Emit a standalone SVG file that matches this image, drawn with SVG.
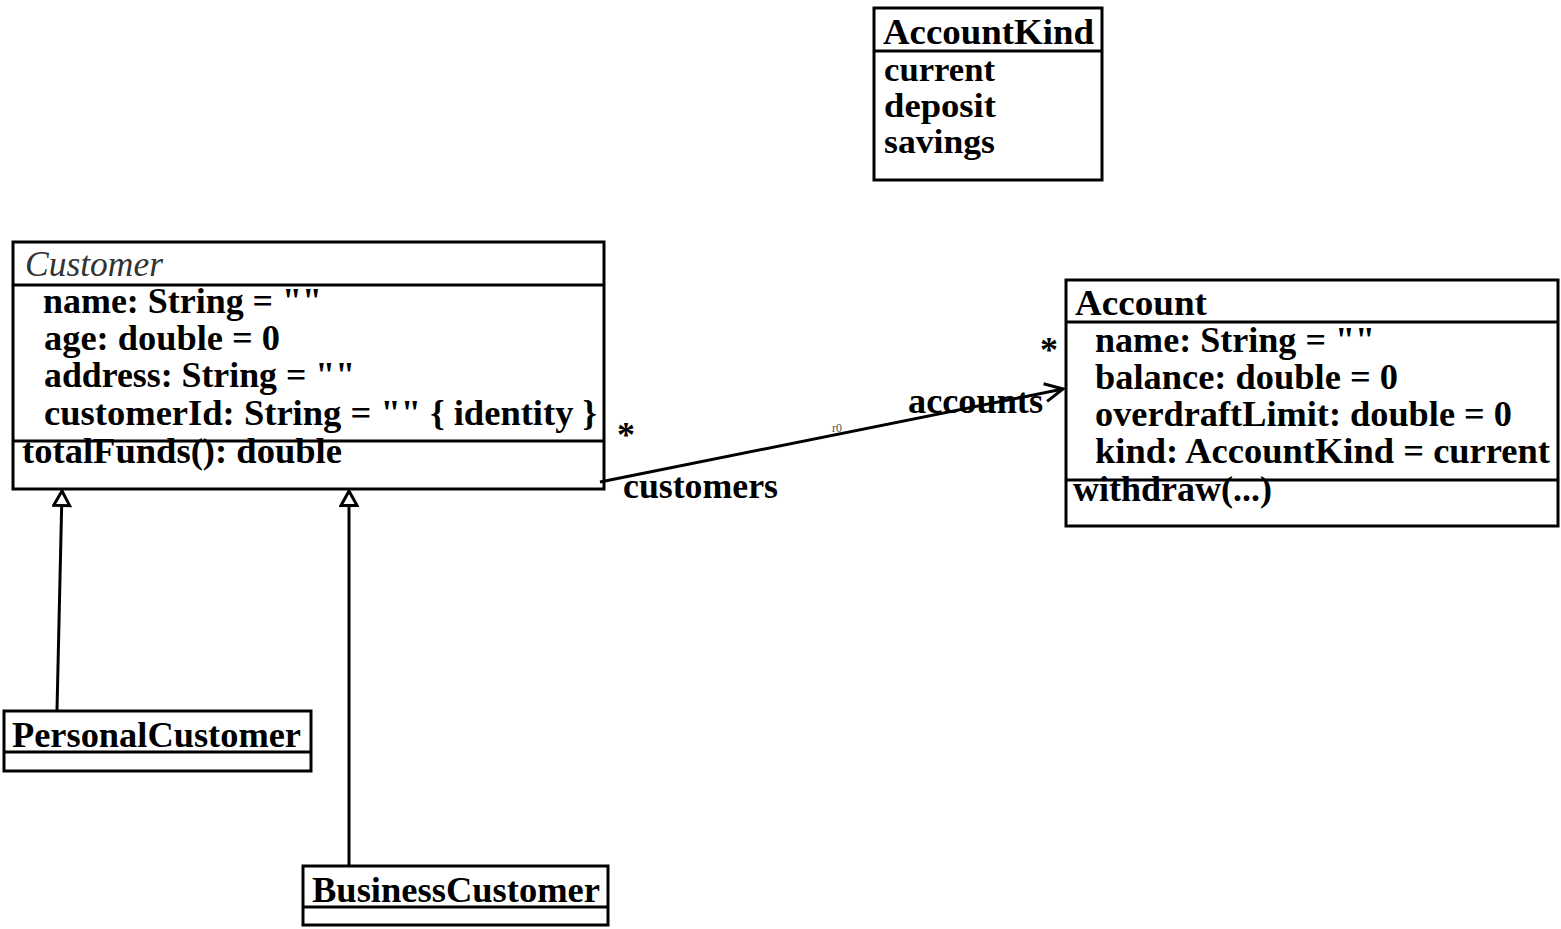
<svg xmlns="http://www.w3.org/2000/svg" width="1561" height="929" viewBox="0 0 1561 929">
  <style>
    .box { fill: #ffffff; stroke: #000000; stroke-width: 3; }
    .sep { stroke: #000000; stroke-width: 3; }
    .t { font-family: "Liberation Serif", "Times New Roman", serif; font-weight: bold; font-size: 36px; fill: #000000; }
    .lit { font-size: 34px; }
    .it { font-family: "Liberation Serif", "Times New Roman", serif; font-style: italic; font-size: 35px; fill: #333333; }
    .small { font-family: "Liberation Serif", serif; font-size: 12px; fill: #555555; }
    .edge { fill: none; stroke: #000000; stroke-width: 3; }
  </style>
  <defs>
    <!-- hollow triangle for generalization, tip on the line end -->
    <marker id="gen" markerWidth="20" markerHeight="20" refX="16" refY="9" orient="auto" markerUnits="userSpaceOnUse" viewBox="-1 -1 20 20">
      <path d="M16 9 L1.5 1 L1.5 17 Z" fill="#ffffff" stroke="#000000" stroke-width="3" stroke-linejoin="miter"/>
    </marker>
    <!-- open arrowhead for navigable association -->
    <marker id="open" markerWidth="24" markerHeight="24" refX="21" refY="12" orient="auto" markerUnits="userSpaceOnUse" viewBox="0 0 24 24">
      <path d="M3 3 L21 12 L3 21" fill="none" stroke="#000000" stroke-width="3"/>
    </marker>
  </defs>
  <rect width="1561" height="929" fill="#ffffff"/>

  <!-- AccountKind -->
  <g id="AccountKind">
    <rect class="box" x="874" y="8" width="228" height="172"/>
    <line class="sep" x1="874" y1="51" x2="1102" y2="51"/>
    <text class="t" x="883" y="44" textLength="211" lengthAdjust="spacingAndGlyphs">AccountKind</text>
    <text class="t lit" x="884" y="81" textLength="111" lengthAdjust="spacingAndGlyphs">current</text>
    <text class="t lit" x="884" y="117" textLength="112" lengthAdjust="spacingAndGlyphs">deposit</text>
    <text class="t lit" x="884" y="153" textLength="111" lengthAdjust="spacingAndGlyphs">savings</text>
  </g>

  <!-- Customer -->
  <g id="Customer">
    <rect class="box" x="13" y="242" width="591" height="247"/>
    <line class="sep" x1="13" y1="285" x2="604" y2="285"/>
    <line class="sep" x1="13" y1="441" x2="604" y2="441"/>
    <text class="it" x="25" y="276" textLength="138" lengthAdjust="spacingAndGlyphs">Customer</text>
    <text class="t" x="43" y="313" textLength="279" lengthAdjust="spacingAndGlyphs">name: String = ""</text>
    <text class="t" x="44" y="350" textLength="236" lengthAdjust="spacingAndGlyphs">age: double = 0</text>
    <text class="t" x="44" y="387" textLength="311" lengthAdjust="spacingAndGlyphs">address: String = ""</text>
    <text class="t" x="44" y="425" textLength="553" lengthAdjust="spacingAndGlyphs">customerId: String = "" { identity }</text>
    <text class="t" x="22" y="463" textLength="320" lengthAdjust="spacingAndGlyphs">totalFunds(): double</text>
  </g>

  <!-- Account -->
  <g id="Account">
    <rect class="box" x="1066" y="280" width="492" height="246"/>
    <line class="sep" x1="1066" y1="322" x2="1558" y2="322"/>
    <line class="sep" x1="1066" y1="480" x2="1558" y2="480"/>
    <text class="t" x="1075" y="315" textLength="132" lengthAdjust="spacingAndGlyphs">Account</text>
    <text class="t" x="1095" y="352" textLength="280" lengthAdjust="spacingAndGlyphs">name: String = ""</text>
    <text class="t" x="1095" y="389" textLength="303" lengthAdjust="spacingAndGlyphs">balance: double = 0</text>
    <text class="t" x="1095" y="426" textLength="417" lengthAdjust="spacingAndGlyphs">overdraftLimit: double = 0</text>
    <text class="t" x="1095" y="463" textLength="455" lengthAdjust="spacingAndGlyphs">kind: AccountKind = current</text>
    <text class="t" x="1073" y="501" textLength="199" lengthAdjust="spacingAndGlyphs">withdraw(...)</text>
  </g>

  <!-- PersonalCustomer -->
  <g id="PersonalCustomer">
    <rect class="box" x="4" y="711" width="307" height="60"/>
    <line class="sep" x1="4" y1="752" x2="311" y2="752"/>
    <text class="t" x="12" y="747" textLength="289" lengthAdjust="spacingAndGlyphs">PersonalCustomer</text>
  </g>

  <!-- BusinessCustomer -->
  <g id="BusinessCustomer">
    <rect class="box" x="303" y="866" width="305" height="59"/>
    <line class="sep" x1="303" y1="907" x2="608" y2="907"/>
    <text class="t" x="312" y="902" textLength="288" lengthAdjust="spacingAndGlyphs">BusinessCustomer</text>
  </g>

  <!-- connectors -->
  <g id="connectors">
    <line class="edge" x1="57" y1="710" x2="62" y2="491" marker-end="url(#gen)"/>
    <line class="edge" x1="349" y1="865" x2="349" y2="491" marker-end="url(#gen)"/>
    <line class="edge" x1="600" y1="482" x2="1063" y2="389" marker-end="url(#open)"/>
    <text class="t" x="617" y="447" font-size="30">*</text>
    <text class="t" x="623" y="498" textLength="155" lengthAdjust="spacingAndGlyphs">customers</text>
    <text class="t" x="908" y="413" textLength="135" lengthAdjust="spacingAndGlyphs">accounts</text>
    <text class="t" x="1040" y="362" font-size="30">*</text>
    <text class="small" x="832" y="432">r0</text>
  </g>
</svg>
